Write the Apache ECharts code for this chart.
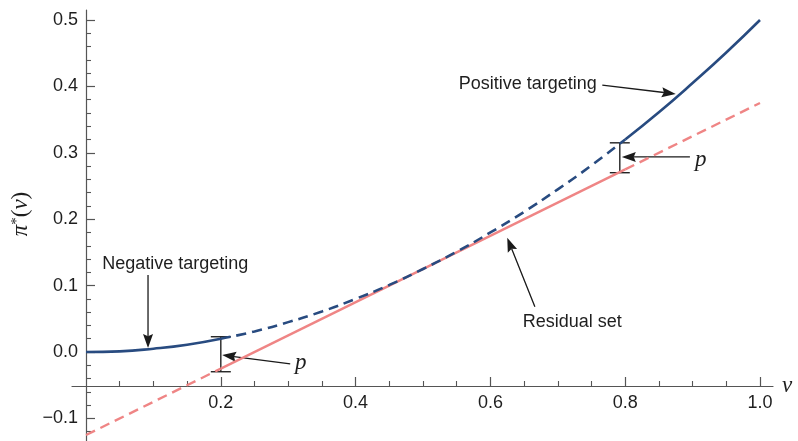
<!DOCTYPE html>
<html><head><meta charset="utf-8">
<script src="https://cdn.jsdelivr.net/npm/echarts@6/dist/echarts.min.js"></script>
<style>html,body{margin:0;padding:0;background:#fff}#c{width:798px;height:441px}</style>
</head><body><div id="c"></div>
<script>
// ---- data ----
const vValues = [0, 0.05, 0.1, 0.15, 0.2, 0.25, 0.3, 0.35, 0.4, 0.45, 0.5, 0.55, 0.6, 0.65, 0.7, 0.75, 0.8, 0.85, 0.9, 0.95, 1.0];
const piStarValues = [0, 0.001, 0.005, 0.011, 0.02, 0.031, 0.045, 0.061, 0.08, 0.101, 0.125, 0.151, 0.18, 0.211, 0.245, 0.281, 0.32, 0.361, 0.405, 0.451, 0.5];
const residualV = [0, 0.2, 0.8, 1.0];
const residualPi = [-0.125, -0.025, 0.275, 0.375];
const yTicks = [-0.1, 0, 0.1, 0.2, 0.3, 0.4, 0.5];
const yMinorTicks = [-0.12, -0.08, -0.06, -0.04, -0.02, 0.02, 0.04, 0.06, 0.08, 0.12, 0.14, 0.16, 0.18, 0.22, 0.24, 0.26, 0.28, 0.32, 0.34, 0.36, 0.38, 0.42, 0.44, 0.46, 0.48];
const xTicks = [0.2, 0.4, 0.6, 0.8, 1.0];
const xMinorTicks = [0.05, 0.1, 0.15, 0.25, 0.3, 0.35, 0.45, 0.5, 0.55, 0.65, 0.7, 0.75, 0.85, 0.9, 0.95];
const noteTexts = ['Negative targeting', 'Positive targeting', 'Residual set', 'p', 'p'];
const notePos = [[0.024, 0.1325], [0.553, 0.404], [0.648, 0.045], [0.31, -0.0166], [0.9036, 0.289]];
const arrows = [[0.092, 0.116, 0.092, 0.006], [0.766, 0.402, 0.875, 0.3886], [0.666, 0.068, 0.625, 0.172], [0.303, -0.018, 0.202, -0.0045], [0.896, 0.2937, 0.795, 0.2937]];
const gapBars = [[0.2, -0.0297, 0.023], [0.792, 0.27, 0.315]];
const xMin = -0.0208, xMax = 1.0193, yMin = -0.134, yMax = 0.515;

// ---- layout ----
const gridLeft = 72, gridRight = 25, gridTop = 10, gridBottom = 0;
const yAxisOffset = -14;   // puts the vertical axis at v = 0
const xAxisOffset = -55;   // puts the horizontal axis at pi = -0.05

function pts(xs, ys, lo, hi) {
  const out = [];
  for (let i = 0; i < xs.length; i++) if (xs[i] >= lo - 1e-9 && xs[i] <= hi + 1e-9) out.push([xs[i], ys[i]]);
  return out;
}
const blue = '#284b80', red = '#ef8585', axisColor = '#555', textColor = '#1e1e1e';
const sans = 'Liberation Sans, Arial, sans-serif';
const serif = 'Liberation Serif, Times New Roman, serif';

function lineSeries(data, color, dashed, width, smooth) {
  return { type: 'line', data, showSymbol: false, smooth: smooth, animation: false, silent: true,
    lineStyle: { color, width, type: dashed ? [10, 6] : 'solid' } };
}
const series = [
  lineSeries(pts(residualV, residualPi, 0, 0.2), red, true, 2.4, false),
  lineSeries(pts(residualV, residualPi, 0.2, 0.8), red, false, 2.4, false),
  lineSeries(pts(residualV, residualPi, 0.8, 1.0), red, true, 2.4, false),
  lineSeries(pts(vValues, piStarValues, 0, 0.2), blue, false, 2.6, true),
  lineSeries(pts(vValues, piStarValues, 0.2, 0.8), blue, true, 2.6, true),
  lineSeries(pts(vValues, piStarValues, 0.8, 1.0), blue, false, 2.6, true),
  { type: 'custom', data: gapBars, animation: false, silent: true,
    renderItem(params, api) {
      const top = api.coord([api.value(0), api.value(2)]);
      const bot = api.coord([api.value(0), api.value(1)]);
      const w = 10, st = { stroke: '#222', lineWidth: 1.4 };
      return { type: 'group', children: [
        { type: 'line', shape: { x1: top[0], y1: top[1], x2: bot[0], y2: bot[1] }, style: st },
        { type: 'line', shape: { x1: top[0] - w, y1: top[1], x2: top[0] + w, y2: top[1] }, style: st },
        { type: 'line', shape: { x1: bot[0] - w, y1: bot[1], x2: bot[0] + w, y2: bot[1] }, style: st }
      ] };
    } },
  { type: 'custom', data: arrows, animation: false, silent: true,
    renderItem(params, api) {
      const p1 = api.coord([api.value(0), api.value(1)]);
      const p2 = api.coord([api.value(2), api.value(3)]);
      const dx = p2[0] - p1[0], dy = p2[1] - p1[1], L = Math.hypot(dx, dy);
      const ux = dx / L, uy = dy / L, nx = -uy, ny = ux;
      const hl = 14, hw = 5;
      const bx = p2[0] - ux * hl, by = p2[1] - uy * hl;
      const kx = p2[0] - ux * hl * 0.85, ky = p2[1] - uy * hl * 0.85;
      return { type: 'group', children: [
        { type: 'line', shape: { x1: p1[0], y1: p1[1], x2: kx, y2: ky }, style: { stroke: '#1a1a1a', lineWidth: 1.3 } },
        { type: 'polygon', shape: { points: [[p2[0], p2[1]], [bx + nx * hw, by + ny * hw], [kx, ky], [bx - nx * hw, by - ny * hw]] }, style: { fill: '#1a1a1a' } }
      ] };
    } },
  { type: 'custom', data: notePos, animation: false, silent: true,
    renderItem(params, api) {
      const p = api.coord([api.value(0), api.value(1)]);
      const t = noteTexts[params.dataIndex];
      const isP = t === 'p';
      return { type: 'text', x: p[0], y: p[1], style: { text: t, fill: textColor,
        font: isP ? 'italic 23px ' + serif : '18px ' + sans, align: 'left', verticalAlign: 'middle' } };
    } }
];

const tickLabel = { fontSize: 18, color: textColor, fontFamily: sans, margin: 8 };
const option = {
  animation: false,
  grid: { left: gridLeft, right: gridRight, top: gridTop, bottom: gridBottom, containLabel: false, outerBoundsMode: 'none' },
  xAxis: [
    { type: 'value', min: xMin, max: xMax, position: 'bottom', offset: xAxisOffset,
      axisLine: { show: true, onZero: false, lineStyle: { color: axisColor, width: 1.2 } },
      axisTick: { show: true, inside: true, length: 9, customValues: xTicks, lineStyle: { color: axisColor, width: 1.2 } },
      axisLabel: Object.assign({ customValues: xTicks, formatter: v => v.toFixed(1) }, tickLabel),
      splitLine: { show: false },
      name: 'v', nameLocation: 'end', nameGap: 9,
      nameTextStyle: { fontFamily: serif, fontStyle: 'italic', fontSize: 23, color: textColor, verticalAlign: 'middle' } },
    { type: 'value', min: xMin, max: xMax, position: 'bottom', offset: xAxisOffset,
      axisLine: { show: false, onZero: false },
      axisTick: { show: true, inside: true, length: 5, customValues: xMinorTicks, lineStyle: { color: axisColor, width: 1.1 } },
      axisLabel: { show: false, customValues: xMinorTicks },
      splitLine: { show: false } }
  ],
  yAxis: [
    { type: 'value', min: yMin, max: yMax, position: 'left', offset: yAxisOffset,
      axisLine: { show: true, onZero: false, lineStyle: { color: axisColor, width: 1.2 } },
      axisTick: { show: true, inside: true, length: 9, customValues: yTicks, lineStyle: { color: axisColor, width: 1.2 } },
      axisLabel: Object.assign({ customValues: yTicks, formatter: v => (v < 0 ? '\u2212' : '') + Math.abs(v).toFixed(1) }, tickLabel),
      splitLine: { show: false } },
    { type: 'value', min: yMin, max: yMax, position: 'left', offset: yAxisOffset,
      axisLine: { show: false, onZero: false },
      axisTick: { show: true, inside: true, length: 5, customValues: yMinorTicks, lineStyle: { color: axisColor, width: 1.1 } },
      axisLabel: { show: false, customValues: yMinorTicks },
      splitLine: { show: false } }
  ],
  graphic: [{
    type: 'text', x: 21, y: 214, rotation: Math.PI / 2,
    style: { text: '{g|π}{s|*}{b|(}{g|v}{b|)}', align: 'center', verticalAlign: 'middle',
      rich: {
        g: { fontFamily: serif, fontStyle: 'italic', fontSize: 23, fill: textColor, verticalAlign: 'bottom' },
        b: { fontFamily: serif, fontSize: 23, fill: textColor, verticalAlign: 'bottom' },
        s: { fontFamily: serif, fontSize: 15, fill: textColor, verticalAlign: 'top' }
      } }
  }],
  series
};
const chart = echarts.init(document.getElementById('c'), null, { renderer: 'canvas' });
chart.setOption(option);
</script></body></html>
